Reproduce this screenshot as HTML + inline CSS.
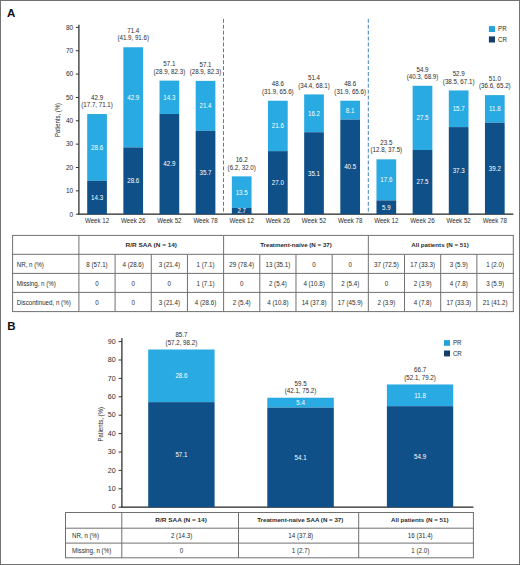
<!DOCTYPE html>
<html><head><meta charset="utf-8"><style>
html,body{margin:0;padding:0;background:#fff;}
svg{display:block;font-family:"Liberation Sans",sans-serif;}
</style></head><body>
<svg width="520" height="565" viewBox="0 0 520 565">
<rect width="520" height="565" fill="#fff"/>
<text x="7.00" y="16.62" font-size="11.5" text-anchor="start" fill="#111" font-weight="bold">A</text>
<line x1="78.90" y1="24.80" x2="78.90" y2="214.20" stroke="#333" stroke-width="1.3"/>
<line x1="75.90" y1="214.20" x2="78.90" y2="214.20" stroke="#333" stroke-width="1.0"/>
<text x="73.20" y="216.53" font-size="6.5" text-anchor="end" fill="#2b2b2b">0</text>
<line x1="75.90" y1="190.85" x2="78.90" y2="190.85" stroke="#333" stroke-width="1.0"/>
<text x="73.20" y="193.18" font-size="6.5" text-anchor="end" fill="#2b2b2b">10</text>
<line x1="75.90" y1="167.50" x2="78.90" y2="167.50" stroke="#333" stroke-width="1.0"/>
<text x="73.20" y="169.83" font-size="6.5" text-anchor="end" fill="#2b2b2b">20</text>
<line x1="75.90" y1="144.15" x2="78.90" y2="144.15" stroke="#333" stroke-width="1.0"/>
<text x="73.20" y="146.48" font-size="6.5" text-anchor="end" fill="#2b2b2b">30</text>
<line x1="75.90" y1="120.80" x2="78.90" y2="120.80" stroke="#333" stroke-width="1.0"/>
<text x="73.20" y="123.13" font-size="6.5" text-anchor="end" fill="#2b2b2b">40</text>
<line x1="75.90" y1="97.45" x2="78.90" y2="97.45" stroke="#333" stroke-width="1.0"/>
<text x="73.20" y="99.78" font-size="6.5" text-anchor="end" fill="#2b2b2b">50</text>
<line x1="75.90" y1="74.10" x2="78.90" y2="74.10" stroke="#333" stroke-width="1.0"/>
<text x="73.20" y="76.43" font-size="6.5" text-anchor="end" fill="#2b2b2b">60</text>
<line x1="75.90" y1="50.75" x2="78.90" y2="50.75" stroke="#333" stroke-width="1.0"/>
<text x="73.20" y="53.08" font-size="6.5" text-anchor="end" fill="#2b2b2b">70</text>
<line x1="75.90" y1="27.40" x2="78.90" y2="27.40" stroke="#333" stroke-width="1.0"/>
<text x="73.20" y="29.73" font-size="6.5" text-anchor="end" fill="#2b2b2b">80</text>
<text x="0" y="0" font-size="7.4" text-anchor="middle" fill="#2b2b2b" textLength="34.2" lengthAdjust="spacingAndGlyphs" transform="translate(59.90,120.00) rotate(-90)">Patients, (%)</text>
<line x1="78.30" y1="214.10" x2="513.30" y2="214.10" stroke="#222" stroke-width="1.1"/>
<rect x="87.20" y="114.03" width="19.70" height="66.78" fill="#29aae2"/>
<rect x="87.20" y="180.81" width="19.70" height="33.39" fill="#0f5088"/>
<text transform="translate(97.05,149.78) scale(0.94,1)" font-size="6.6" text-anchor="middle" fill="#fff">28.6</text>
<text transform="translate(97.05,199.87) scale(0.94,1)" font-size="6.6" text-anchor="middle" fill="#fff">14.3</text>
<text transform="translate(97.05,99.79) scale(0.94,1)" font-size="6.6" text-anchor="middle" fill="#2b2b2b">42.9</text>
<text transform="translate(97.05,107.19) scale(0.94,1)" font-size="6.6" text-anchor="middle" fill="#2b2b2b">(17.7, 71.1)</text>
<text transform="translate(97.05,222.96) scale(0.94,1)" font-size="6.6" text-anchor="middle" fill="#2b2b2b">Week 12</text>
<rect x="123.36" y="47.25" width="19.70" height="100.17" fill="#29aae2"/>
<rect x="123.36" y="147.42" width="19.70" height="66.78" fill="#0f5088"/>
<text transform="translate(133.21,99.70) scale(0.94,1)" font-size="6.6" text-anchor="middle" fill="#fff">42.9</text>
<text transform="translate(133.21,183.17) scale(0.94,1)" font-size="6.6" text-anchor="middle" fill="#fff">28.6</text>
<text transform="translate(133.21,33.01) scale(0.94,1)" font-size="6.6" text-anchor="middle" fill="#2b2b2b">71.4</text>
<text transform="translate(133.21,40.41) scale(0.94,1)" font-size="6.6" text-anchor="middle" fill="#2b2b2b">(41.9, 91.6)</text>
<text transform="translate(133.21,222.96) scale(0.94,1)" font-size="6.6" text-anchor="middle" fill="#2b2b2b">Week 26</text>
<rect x="159.52" y="80.64" width="19.70" height="33.39" fill="#29aae2"/>
<rect x="159.52" y="114.03" width="19.70" height="100.17" fill="#0f5088"/>
<text transform="translate(169.37,99.70) scale(0.94,1)" font-size="6.6" text-anchor="middle" fill="#fff">14.3</text>
<text transform="translate(169.37,166.48) scale(0.94,1)" font-size="6.6" text-anchor="middle" fill="#fff">42.9</text>
<text transform="translate(169.37,66.40) scale(0.94,1)" font-size="6.6" text-anchor="middle" fill="#2b2b2b">57.1</text>
<text transform="translate(169.37,73.80) scale(0.94,1)" font-size="6.6" text-anchor="middle" fill="#2b2b2b">(28.9, 82.3)</text>
<text transform="translate(169.37,222.96) scale(0.94,1)" font-size="6.6" text-anchor="middle" fill="#2b2b2b">Week 52</text>
<rect x="195.68" y="80.87" width="19.70" height="49.97" fill="#29aae2"/>
<rect x="195.68" y="130.84" width="19.70" height="83.36" fill="#0f5088"/>
<text transform="translate(205.53,108.22) scale(0.94,1)" font-size="6.6" text-anchor="middle" fill="#fff">21.4</text>
<text transform="translate(205.53,174.88) scale(0.94,1)" font-size="6.6" text-anchor="middle" fill="#fff">35.7</text>
<text transform="translate(205.53,66.63) scale(0.94,1)" font-size="6.6" text-anchor="middle" fill="#2b2b2b">57.1</text>
<text transform="translate(205.53,74.03) scale(0.94,1)" font-size="6.6" text-anchor="middle" fill="#2b2b2b">(28.9, 82.3)</text>
<text transform="translate(205.53,222.96) scale(0.94,1)" font-size="6.6" text-anchor="middle" fill="#2b2b2b">Week 78</text>
<rect x="231.84" y="176.37" width="19.70" height="31.52" fill="#29aae2"/>
<rect x="231.84" y="207.90" width="19.70" height="6.30" fill="#0f5088"/>
<text transform="translate(241.69,194.50) scale(0.94,1)" font-size="6.6" text-anchor="middle" fill="#fff">13.5</text>
<text transform="translate(241.69,213.41) scale(0.94,1)" font-size="6.6" text-anchor="middle" fill="#fff">2.7</text>
<text transform="translate(241.69,162.14) scale(0.94,1)" font-size="6.6" text-anchor="middle" fill="#2b2b2b">16.2</text>
<text transform="translate(241.69,169.54) scale(0.94,1)" font-size="6.6" text-anchor="middle" fill="#2b2b2b">(6.2, 32.0)</text>
<text transform="translate(241.69,222.96) scale(0.94,1)" font-size="6.6" text-anchor="middle" fill="#2b2b2b">Week 12</text>
<rect x="268.00" y="100.72" width="19.70" height="50.44" fill="#29aae2"/>
<rect x="268.00" y="151.15" width="19.70" height="63.05" fill="#0f5088"/>
<text transform="translate(277.85,128.30) scale(0.94,1)" font-size="6.6" text-anchor="middle" fill="#fff">21.6</text>
<text transform="translate(277.85,185.04) scale(0.94,1)" font-size="6.6" text-anchor="middle" fill="#fff">27.0</text>
<text transform="translate(277.85,86.48) scale(0.94,1)" font-size="6.6" text-anchor="middle" fill="#2b2b2b">48.6</text>
<text transform="translate(277.85,93.88) scale(0.94,1)" font-size="6.6" text-anchor="middle" fill="#2b2b2b">(31.9, 65.6)</text>
<text transform="translate(277.85,222.96) scale(0.94,1)" font-size="6.6" text-anchor="middle" fill="#2b2b2b">Week 26</text>
<rect x="304.16" y="94.41" width="19.70" height="37.83" fill="#29aae2"/>
<rect x="304.16" y="132.24" width="19.70" height="81.96" fill="#0f5088"/>
<text transform="translate(314.01,115.69) scale(0.94,1)" font-size="6.6" text-anchor="middle" fill="#fff">16.2</text>
<text transform="translate(314.01,175.58) scale(0.94,1)" font-size="6.6" text-anchor="middle" fill="#fff">35.1</text>
<text transform="translate(314.01,80.18) scale(0.94,1)" font-size="6.6" text-anchor="middle" fill="#2b2b2b">51.4</text>
<text transform="translate(314.01,87.58) scale(0.94,1)" font-size="6.6" text-anchor="middle" fill="#2b2b2b">(34.4, 68.1)</text>
<text transform="translate(314.01,222.96) scale(0.94,1)" font-size="6.6" text-anchor="middle" fill="#2b2b2b">Week 52</text>
<rect x="340.32" y="100.72" width="19.70" height="18.91" fill="#29aae2"/>
<rect x="340.32" y="119.63" width="19.70" height="94.57" fill="#0f5088"/>
<text transform="translate(350.17,112.54) scale(0.94,1)" font-size="6.6" text-anchor="middle" fill="#fff">8.1</text>
<text transform="translate(350.17,169.28) scale(0.94,1)" font-size="6.6" text-anchor="middle" fill="#fff">40.5</text>
<text transform="translate(350.17,86.48) scale(0.94,1)" font-size="6.6" text-anchor="middle" fill="#2b2b2b">48.6</text>
<text transform="translate(350.17,93.88) scale(0.94,1)" font-size="6.6" text-anchor="middle" fill="#2b2b2b">(31.9, 65.6)</text>
<text transform="translate(350.17,222.96) scale(0.94,1)" font-size="6.6" text-anchor="middle" fill="#2b2b2b">Week 78</text>
<rect x="376.48" y="159.33" width="19.70" height="41.10" fill="#29aae2"/>
<rect x="376.48" y="200.42" width="19.70" height="13.78" fill="#0f5088"/>
<text transform="translate(386.33,182.24) scale(0.94,1)" font-size="6.6" text-anchor="middle" fill="#fff">17.6</text>
<text transform="translate(386.33,209.67) scale(0.94,1)" font-size="6.6" text-anchor="middle" fill="#fff">5.9</text>
<text transform="translate(386.33,145.09) scale(0.94,1)" font-size="6.6" text-anchor="middle" fill="#2b2b2b">23.5</text>
<text transform="translate(386.33,152.49) scale(0.94,1)" font-size="6.6" text-anchor="middle" fill="#2b2b2b">(12.8, 37.5)</text>
<text transform="translate(386.33,222.96) scale(0.94,1)" font-size="6.6" text-anchor="middle" fill="#2b2b2b">Week 12</text>
<rect x="412.64" y="85.77" width="19.70" height="64.21" fill="#29aae2"/>
<rect x="412.64" y="149.99" width="19.70" height="64.21" fill="#0f5088"/>
<text transform="translate(422.49,120.24) scale(0.94,1)" font-size="6.6" text-anchor="middle" fill="#fff">27.5</text>
<text transform="translate(422.49,184.46) scale(0.94,1)" font-size="6.6" text-anchor="middle" fill="#fff">27.5</text>
<text transform="translate(422.49,71.54) scale(0.94,1)" font-size="6.6" text-anchor="middle" fill="#2b2b2b">54.9</text>
<text transform="translate(422.49,78.94) scale(0.94,1)" font-size="6.6" text-anchor="middle" fill="#2b2b2b">(40.3, 68.9)</text>
<text transform="translate(422.49,222.96) scale(0.94,1)" font-size="6.6" text-anchor="middle" fill="#2b2b2b">Week 26</text>
<rect x="448.80" y="90.44" width="19.70" height="36.66" fill="#29aae2"/>
<rect x="448.80" y="127.10" width="19.70" height="87.10" fill="#0f5088"/>
<text transform="translate(458.65,111.14) scale(0.94,1)" font-size="6.6" text-anchor="middle" fill="#fff">15.7</text>
<text transform="translate(458.65,173.02) scale(0.94,1)" font-size="6.6" text-anchor="middle" fill="#fff">37.3</text>
<text transform="translate(458.65,76.21) scale(0.94,1)" font-size="6.6" text-anchor="middle" fill="#2b2b2b">52.9</text>
<text transform="translate(458.65,83.61) scale(0.94,1)" font-size="6.6" text-anchor="middle" fill="#2b2b2b">(38.5, 67.1)</text>
<text transform="translate(458.65,222.96) scale(0.94,1)" font-size="6.6" text-anchor="middle" fill="#2b2b2b">Week 52</text>
<rect x="484.96" y="95.11" width="19.70" height="27.55" fill="#29aae2"/>
<rect x="484.96" y="122.67" width="19.70" height="91.53" fill="#0f5088"/>
<text transform="translate(494.81,111.25) scale(0.94,1)" font-size="6.6" text-anchor="middle" fill="#fff">11.8</text>
<text transform="translate(494.81,170.80) scale(0.94,1)" font-size="6.6" text-anchor="middle" fill="#fff">39.2</text>
<text transform="translate(494.81,80.88) scale(0.94,1)" font-size="6.6" text-anchor="middle" fill="#2b2b2b">51.0</text>
<text transform="translate(494.81,88.28) scale(0.94,1)" font-size="6.6" text-anchor="middle" fill="#2b2b2b">(36.6, 65.2)</text>
<text transform="translate(494.81,222.96) scale(0.94,1)" font-size="6.6" text-anchor="middle" fill="#2b2b2b">Week 78</text>
<line x1="223.50" y1="18.90" x2="223.50" y2="214.20" stroke="#4282c0" stroke-width="1" stroke-dasharray="3.9 2.0"/>
<line x1="368.30" y1="18.90" x2="368.30" y2="214.20" stroke="#4282c0" stroke-width="1" stroke-dasharray="3.9 2.0"/>
<rect x="488.90" y="26.10" width="6.10" height="5.90" fill="#22a4da"/>
<text transform="translate(498.00,31.36) scale(0.94,1)" font-size="6.6" text-anchor="start" fill="#2b2b2b">PR</text>
<rect x="488.90" y="36.40" width="6.10" height="6.10" fill="#123e69"/>
<text transform="translate(498.00,42.06) scale(0.94,1)" font-size="6.6" text-anchor="start" fill="#2b2b2b">CR</text>
<line x1="12.10" y1="235.40" x2="513.80" y2="235.40" stroke="#707070" stroke-width="1"/>
<line x1="12.10" y1="254.30" x2="513.80" y2="254.30" stroke="#707070" stroke-width="1"/>
<line x1="12.10" y1="273.40" x2="513.80" y2="273.40" stroke="#707070" stroke-width="1"/>
<line x1="12.10" y1="292.40" x2="513.80" y2="292.40" stroke="#707070" stroke-width="1"/>
<line x1="12.10" y1="311.60" x2="513.80" y2="311.60" stroke="#707070" stroke-width="1"/>
<line x1="12.60" y1="235.40" x2="12.60" y2="311.60" stroke="#707070" stroke-width="1"/>
<line x1="513.30" y1="235.40" x2="513.30" y2="311.60" stroke="#707070" stroke-width="1"/>
<line x1="78.90" y1="235.40" x2="78.90" y2="311.60" stroke="#707070" stroke-width="1"/>
<line x1="115.08" y1="254.30" x2="115.08" y2="311.60" stroke="#707070" stroke-width="1"/>
<line x1="151.26" y1="254.30" x2="151.26" y2="311.60" stroke="#707070" stroke-width="1"/>
<line x1="187.44" y1="254.30" x2="187.44" y2="311.60" stroke="#707070" stroke-width="1"/>
<line x1="223.62" y1="235.40" x2="223.62" y2="311.60" stroke="#707070" stroke-width="1"/>
<line x1="259.80" y1="254.30" x2="259.80" y2="311.60" stroke="#707070" stroke-width="1"/>
<line x1="295.98" y1="254.30" x2="295.98" y2="311.60" stroke="#707070" stroke-width="1"/>
<line x1="332.16" y1="254.30" x2="332.16" y2="311.60" stroke="#707070" stroke-width="1"/>
<line x1="368.34" y1="235.40" x2="368.34" y2="311.60" stroke="#707070" stroke-width="1"/>
<line x1="404.52" y1="254.30" x2="404.52" y2="311.60" stroke="#707070" stroke-width="1"/>
<line x1="440.70" y1="254.30" x2="440.70" y2="311.60" stroke="#707070" stroke-width="1"/>
<line x1="476.88" y1="254.30" x2="476.88" y2="311.60" stroke="#707070" stroke-width="1"/>
<text x="151.26" y="247.42" font-size="6.2" text-anchor="middle" fill="#2b2b2b" font-weight="bold" textLength="51.5" lengthAdjust="spacingAndGlyphs">R/R SAA (N = 14)</text>
<text x="295.98" y="247.42" font-size="6.2" text-anchor="middle" fill="#2b2b2b" font-weight="bold">Treatment-naïve (N = 37)</text>
<text x="440.02" y="247.42" font-size="6.2" text-anchor="middle" fill="#2b2b2b" font-weight="bold">All patients (N = 51)</text>
<text transform="translate(16.70,267.01) scale(0.94,1)" font-size="6.6" text-anchor="start" fill="#2b2b2b">NR, n (%)</text>
<text transform="translate(96.99,267.01) scale(0.94,1)" font-size="6.6" text-anchor="middle" fill="#2b2b2b">8 (57.1)</text>
<text transform="translate(133.17,267.01) scale(0.94,1)" font-size="6.6" text-anchor="middle" fill="#2b2b2b">4 (28.6)</text>
<text transform="translate(169.35,267.01) scale(0.94,1)" font-size="6.6" text-anchor="middle" fill="#2b2b2b">3 (21.4)</text>
<text transform="translate(205.53,267.01) scale(0.94,1)" font-size="6.6" text-anchor="middle" fill="#2b2b2b">1 (7.1)</text>
<text transform="translate(241.71,267.01) scale(0.94,1)" font-size="6.6" text-anchor="middle" fill="#2b2b2b">29 (78.4)</text>
<text transform="translate(277.89,267.01) scale(0.94,1)" font-size="6.6" text-anchor="middle" fill="#2b2b2b">13 (35.1)</text>
<text transform="translate(314.07,267.01) scale(0.94,1)" font-size="6.6" text-anchor="middle" fill="#2b2b2b">0</text>
<text transform="translate(350.25,267.01) scale(0.94,1)" font-size="6.6" text-anchor="middle" fill="#2b2b2b">0</text>
<text transform="translate(386.43,267.01) scale(0.94,1)" font-size="6.6" text-anchor="middle" fill="#2b2b2b">37 (72.5)</text>
<text transform="translate(422.61,267.01) scale(0.94,1)" font-size="6.6" text-anchor="middle" fill="#2b2b2b">17 (33.3)</text>
<text transform="translate(458.79,267.01) scale(0.94,1)" font-size="6.6" text-anchor="middle" fill="#2b2b2b">3 (5.9)</text>
<text transform="translate(495.09,267.01) scale(0.94,1)" font-size="6.6" text-anchor="middle" fill="#2b2b2b">1 (2.0)</text>
<text transform="translate(16.70,286.06) scale(0.94,1)" font-size="6.6" text-anchor="start" fill="#2b2b2b">Missing, n (%)</text>
<text transform="translate(96.99,286.06) scale(0.94,1)" font-size="6.6" text-anchor="middle" fill="#2b2b2b">0</text>
<text transform="translate(133.17,286.06) scale(0.94,1)" font-size="6.6" text-anchor="middle" fill="#2b2b2b">0</text>
<text transform="translate(169.35,286.06) scale(0.94,1)" font-size="6.6" text-anchor="middle" fill="#2b2b2b">0</text>
<text transform="translate(205.53,286.06) scale(0.94,1)" font-size="6.6" text-anchor="middle" fill="#2b2b2b">1 (7.1)</text>
<text transform="translate(241.71,286.06) scale(0.94,1)" font-size="6.6" text-anchor="middle" fill="#2b2b2b">0</text>
<text transform="translate(277.89,286.06) scale(0.94,1)" font-size="6.6" text-anchor="middle" fill="#2b2b2b">2 (5.4)</text>
<text transform="translate(314.07,286.06) scale(0.94,1)" font-size="6.6" text-anchor="middle" fill="#2b2b2b">4 (10.8)</text>
<text transform="translate(350.25,286.06) scale(0.94,1)" font-size="6.6" text-anchor="middle" fill="#2b2b2b">2 (5.4)</text>
<text transform="translate(386.43,286.06) scale(0.94,1)" font-size="6.6" text-anchor="middle" fill="#2b2b2b">0</text>
<text transform="translate(422.61,286.06) scale(0.94,1)" font-size="6.6" text-anchor="middle" fill="#2b2b2b">2 (3.9)</text>
<text transform="translate(458.79,286.06) scale(0.94,1)" font-size="6.6" text-anchor="middle" fill="#2b2b2b">4 (7.8)</text>
<text transform="translate(495.09,286.06) scale(0.94,1)" font-size="6.6" text-anchor="middle" fill="#2b2b2b">3 (5.9)</text>
<text transform="translate(16.70,305.16) scale(0.94,1)" font-size="6.6" text-anchor="start" fill="#2b2b2b">Discontinued, n (%)</text>
<text transform="translate(96.99,305.16) scale(0.94,1)" font-size="6.6" text-anchor="middle" fill="#2b2b2b">0</text>
<text transform="translate(133.17,305.16) scale(0.94,1)" font-size="6.6" text-anchor="middle" fill="#2b2b2b">0</text>
<text transform="translate(169.35,305.16) scale(0.94,1)" font-size="6.6" text-anchor="middle" fill="#2b2b2b">3 (21.4)</text>
<text transform="translate(205.53,305.16) scale(0.94,1)" font-size="6.6" text-anchor="middle" fill="#2b2b2b">4 (28.6)</text>
<text transform="translate(241.71,305.16) scale(0.94,1)" font-size="6.6" text-anchor="middle" fill="#2b2b2b">2 (5.4)</text>
<text transform="translate(277.89,305.16) scale(0.94,1)" font-size="6.6" text-anchor="middle" fill="#2b2b2b">4 (10.8)</text>
<text transform="translate(314.07,305.16) scale(0.94,1)" font-size="6.6" text-anchor="middle" fill="#2b2b2b">14 (37.8)</text>
<text transform="translate(350.25,305.16) scale(0.94,1)" font-size="6.6" text-anchor="middle" fill="#2b2b2b">17 (45.9)</text>
<text transform="translate(386.43,305.16) scale(0.94,1)" font-size="6.6" text-anchor="middle" fill="#2b2b2b">2 (3.9)</text>
<text transform="translate(422.61,305.16) scale(0.94,1)" font-size="6.6" text-anchor="middle" fill="#2b2b2b">4 (7.8)</text>
<text transform="translate(458.79,305.16) scale(0.94,1)" font-size="6.6" text-anchor="middle" fill="#2b2b2b">17 (33.3)</text>
<text transform="translate(495.09,305.16) scale(0.94,1)" font-size="6.6" text-anchor="middle" fill="#2b2b2b">21 (41.2)</text>
<text x="7.30" y="330.12" font-size="11.5" text-anchor="start" fill="#111" font-weight="bold">B</text>
<line x1="121.90" y1="338.30" x2="121.90" y2="507.20" stroke="#333" stroke-width="1.3"/>
<line x1="118.60" y1="507.20" x2="121.90" y2="507.20" stroke="#333" stroke-width="1.0"/>
<text x="115.60" y="509.34" font-size="7.1" text-anchor="end" fill="#2b2b2b">0</text>
<line x1="118.60" y1="488.80" x2="121.90" y2="488.80" stroke="#333" stroke-width="1.0"/>
<text x="115.60" y="490.94" font-size="7.1" text-anchor="end" fill="#2b2b2b">10</text>
<line x1="118.60" y1="470.40" x2="121.90" y2="470.40" stroke="#333" stroke-width="1.0"/>
<text x="115.60" y="472.54" font-size="7.1" text-anchor="end" fill="#2b2b2b">20</text>
<line x1="118.60" y1="452.00" x2="121.90" y2="452.00" stroke="#333" stroke-width="1.0"/>
<text x="115.60" y="454.14" font-size="7.1" text-anchor="end" fill="#2b2b2b">30</text>
<line x1="118.60" y1="433.60" x2="121.90" y2="433.60" stroke="#333" stroke-width="1.0"/>
<text x="115.60" y="435.74" font-size="7.1" text-anchor="end" fill="#2b2b2b">40</text>
<line x1="118.60" y1="415.20" x2="121.90" y2="415.20" stroke="#333" stroke-width="1.0"/>
<text x="115.60" y="417.34" font-size="7.1" text-anchor="end" fill="#2b2b2b">50</text>
<line x1="118.60" y1="396.80" x2="121.90" y2="396.80" stroke="#333" stroke-width="1.0"/>
<text x="115.60" y="398.94" font-size="7.1" text-anchor="end" fill="#2b2b2b">60</text>
<line x1="118.60" y1="378.40" x2="121.90" y2="378.40" stroke="#333" stroke-width="1.0"/>
<text x="115.60" y="380.54" font-size="7.1" text-anchor="end" fill="#2b2b2b">70</text>
<line x1="118.60" y1="360.00" x2="121.90" y2="360.00" stroke="#333" stroke-width="1.0"/>
<text x="115.60" y="362.14" font-size="7.1" text-anchor="end" fill="#2b2b2b">80</text>
<line x1="118.60" y1="341.60" x2="121.90" y2="341.60" stroke="#333" stroke-width="1.0"/>
<text x="115.60" y="343.74" font-size="7.1" text-anchor="end" fill="#2b2b2b">90</text>
<text x="0" y="0" font-size="7.4" text-anchor="middle" fill="#2b2b2b" textLength="34.4" lengthAdjust="spacingAndGlyphs" transform="translate(102.50,424.30) rotate(-90)">Patients, (%)</text>
<line x1="121.30" y1="507.10" x2="473.40" y2="507.10" stroke="#222" stroke-width="1.1"/>
<rect x="148.20" y="349.51" width="66.40" height="52.62" fill="#29aae2"/>
<rect x="148.20" y="402.14" width="66.40" height="105.06" fill="#0f5088"/>
<text transform="translate(181.40,378.19) scale(0.94,1)" font-size="6.6" text-anchor="middle" fill="#fff">28.6</text>
<text transform="translate(181.40,457.03) scale(0.94,1)" font-size="6.6" text-anchor="middle" fill="#fff">57.1</text>
<text transform="translate(181.40,337.47) scale(0.94,1)" font-size="6.6" text-anchor="middle" fill="#2b2b2b">85.7</text>
<text transform="translate(181.40,345.07) scale(0.94,1)" font-size="6.6" text-anchor="middle" fill="#2b2b2b">(57.2, 98.2)</text>
<rect x="267.30" y="397.72" width="66.50" height="9.94" fill="#29aae2"/>
<rect x="267.30" y="407.66" width="66.50" height="99.54" fill="#0f5088"/>
<text transform="translate(300.55,405.05) scale(0.94,1)" font-size="6.6" text-anchor="middle" fill="#fff">5.4</text>
<text transform="translate(300.55,459.79) scale(0.94,1)" font-size="6.6" text-anchor="middle" fill="#fff">54.1</text>
<text transform="translate(300.55,385.68) scale(0.94,1)" font-size="6.6" text-anchor="middle" fill="#2b2b2b">59.5</text>
<text transform="translate(300.55,393.28) scale(0.94,1)" font-size="6.6" text-anchor="middle" fill="#2b2b2b">(42.1, 75.2)</text>
<rect x="386.90" y="384.47" width="66.30" height="21.71" fill="#29aae2"/>
<rect x="386.90" y="406.18" width="66.30" height="101.02" fill="#0f5088"/>
<text transform="translate(420.05,397.69) scale(0.94,1)" font-size="6.6" text-anchor="middle" fill="#fff">11.8</text>
<text transform="translate(420.05,459.05) scale(0.94,1)" font-size="6.6" text-anchor="middle" fill="#fff">54.9</text>
<text transform="translate(420.05,372.43) scale(0.94,1)" font-size="6.6" text-anchor="middle" fill="#2b2b2b">66.7</text>
<text transform="translate(420.05,380.03) scale(0.94,1)" font-size="6.6" text-anchor="middle" fill="#2b2b2b">(52.1, 79.2)</text>
<rect x="444.00" y="340.10" width="6.00" height="5.70" fill="#22a4da"/>
<text transform="translate(452.90,345.16) scale(0.94,1)" font-size="6.6" text-anchor="start" fill="#2b2b2b">PR</text>
<rect x="444.00" y="350.50" width="6.00" height="5.90" fill="#123e69"/>
<text transform="translate(452.90,355.76) scale(0.94,1)" font-size="6.6" text-anchor="start" fill="#2b2b2b">CR</text>
<line x1="65.00" y1="512.50" x2="473.90" y2="512.50" stroke="#707070" stroke-width="1"/>
<line x1="65.00" y1="528.20" x2="473.90" y2="528.20" stroke="#707070" stroke-width="1"/>
<line x1="65.00" y1="543.10" x2="473.90" y2="543.10" stroke="#707070" stroke-width="1"/>
<line x1="65.00" y1="557.80" x2="473.90" y2="557.80" stroke="#707070" stroke-width="1"/>
<line x1="65.50" y1="512.50" x2="65.50" y2="557.80" stroke="#707070" stroke-width="1"/>
<line x1="121.80" y1="512.50" x2="121.80" y2="557.80" stroke="#707070" stroke-width="1"/>
<line x1="238.50" y1="512.50" x2="238.50" y2="557.80" stroke="#707070" stroke-width="1"/>
<line x1="358.70" y1="512.50" x2="358.70" y2="557.80" stroke="#707070" stroke-width="1"/>
<line x1="473.40" y1="512.50" x2="473.40" y2="557.80" stroke="#707070" stroke-width="1"/>
<text x="181.10" y="522.22" font-size="6.2" text-anchor="middle" fill="#2b2b2b" font-weight="bold" textLength="51.5" lengthAdjust="spacingAndGlyphs">R/R SAA (N = 14)</text>
<text x="300.25" y="522.22" font-size="6.2" text-anchor="middle" fill="#2b2b2b" font-weight="bold">Treatment-naïve SAA (N = 37)</text>
<text x="419.75" y="522.22" font-size="6.2" text-anchor="middle" fill="#2b2b2b" font-weight="bold">All patients (N = 51)</text>
<text transform="translate(72.00,538.01) scale(0.94,1)" font-size="6.6" text-anchor="start" fill="#2b2b2b">NR, n (%)</text>
<text transform="translate(181.60,538.01) scale(0.94,1)" font-size="6.6" text-anchor="middle" fill="#2b2b2b">2 (14.3)</text>
<text transform="translate(300.75,538.01) scale(0.94,1)" font-size="6.6" text-anchor="middle" fill="#2b2b2b">14 (37.8)</text>
<text transform="translate(420.25,538.01) scale(0.94,1)" font-size="6.6" text-anchor="middle" fill="#2b2b2b">16 (31.4)</text>
<text transform="translate(72.00,552.81) scale(0.94,1)" font-size="6.6" text-anchor="start" fill="#2b2b2b">Missing, n (%)</text>
<text transform="translate(181.60,552.81) scale(0.94,1)" font-size="6.6" text-anchor="middle" fill="#2b2b2b">0</text>
<text transform="translate(300.75,552.81) scale(0.94,1)" font-size="6.6" text-anchor="middle" fill="#2b2b2b">1 (2.7)</text>
<text transform="translate(420.25,552.81) scale(0.94,1)" font-size="6.6" text-anchor="middle" fill="#2b2b2b">1 (2.0)</text>
<rect x="0.00" y="0.00" width="520.00" height="1.00" fill="#717171"/>
<rect x="0.00" y="564.00" width="520.00" height="1.00" fill="#717171"/>
<rect x="0.00" y="0.00" width="1.00" height="565.00" fill="#717171"/>
<rect x="519.00" y="0.00" width="1.00" height="565.00" fill="#717171"/>
</svg>
</body></html>
